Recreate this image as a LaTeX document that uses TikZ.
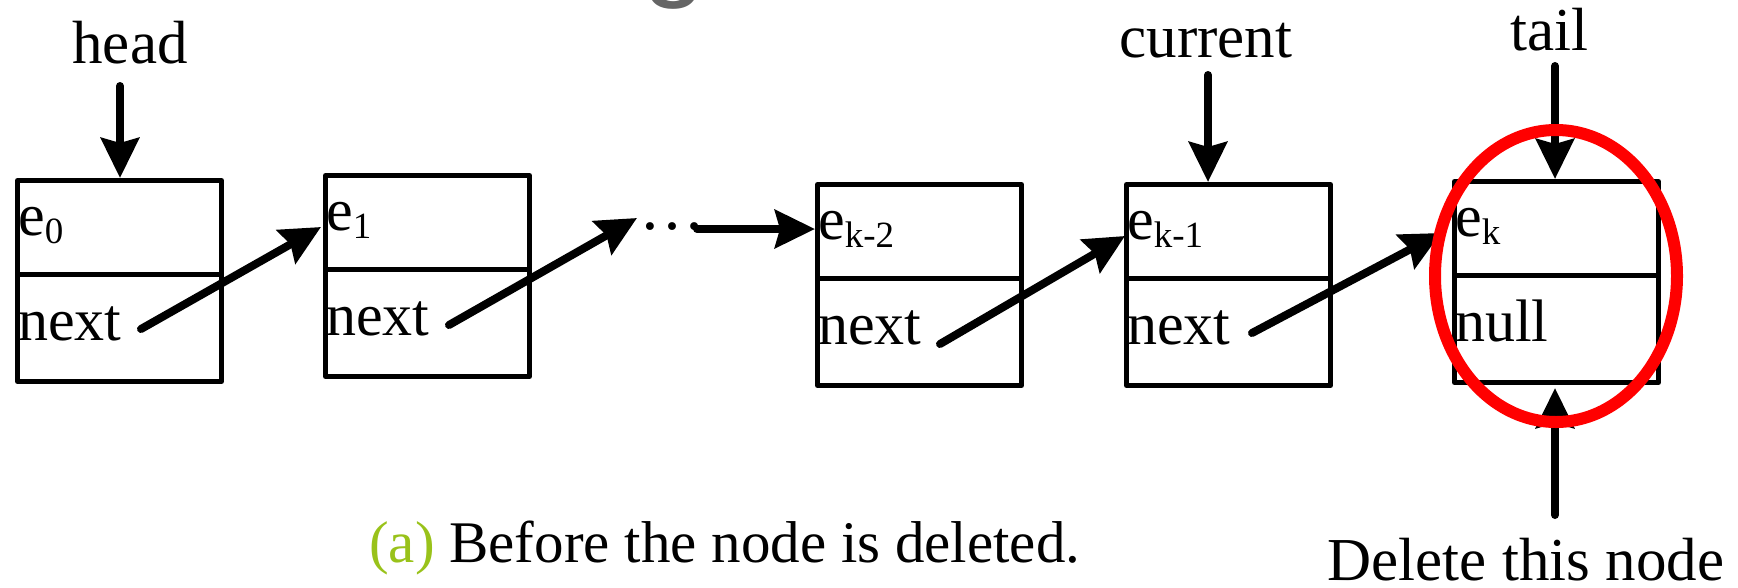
\documentclass[tikz,border=0pt]{standalone}
\usepackage{fontspec}
\setmainfont{Liberation Serif}
\newfontfamily\titlesans{Liberation Sans}
\usetikzlibrary{arrows.meta,shapes.geometric}
\newcommand\myel[1]{e\raisebox{-8pt}{\fontsize{37}{37}\selectfont #1}}
\begin{document}
\begin{tikzpicture}[x=1pt,y=-1pt,
  cellbox/.style={draw, line width=5pt, line join=round, minimum width=204pt, minimum height=201pt, inner sep=0pt, anchor=north west},
  lbl/.style={font=\fontsize{61}{61}\selectfont, inner sep=0pt, anchor=base},
  txt/.style={font=\fontsize{60}{60}\selectfont, inner sep=0pt, anchor=base west},
  ptr/.style={line width=8pt, line cap=round, -{Stealth[length=40pt,width=38pt,inset=5pt]}},
]
\useasboundingbox (0,0) rectangle (1738,587);
\clip (0,0) rectangle (1738,587);
\definecolor{capgreen}{HTML}{99C21A}
\definecolor{titlegray}{HTML}{656565}

% cropped title glyph
\node[font=\titlesans\fontsize{115}{115}\selectfont, text=titlegray, inner sep=0pt, anchor=base] (g) at (674,-15) {g};

% boxes
\node[cellbox] (b0) at (15,178) {};
\node[cellbox] (b1) at (323,173) {};
\node[cellbox] (b2) at (815,182) {};
\node[cellbox] (b3) at (1124,182) {};
\node[cellbox] (b4) at (1452,179) {};
\foreach \b in {b0,b1,b2,b3,b4}{
  \draw[line width=5pt] ([yshift=-96pt]\b.north west) -- ([yshift=-96pt]\b.north east);
}

% texts in boxes
\node[txt] (e0) at ([xshift=3pt,yshift=-57pt]b0.north west) {\myel{0}};
\node[txt] (n0) at ([xshift=3pt,yshift=-162pt]b0.north west) {next};
\node[txt] (e1) at ([xshift=3pt,yshift=-57pt]b1.north west) {\myel{1}};
\node[txt] (n1) at ([xshift=3pt,yshift=-162pt]b1.north west) {next};
\node[txt] (e2) at ([xshift=3pt,yshift=-57pt]b2.north west) {\myel{k-2}};
\node[txt] (n2) at ([xshift=3pt,yshift=-162pt]b2.north west) {next};
\node[txt] (e3) at ([xshift=3pt,yshift=-57pt]b3.north west) {\myel{k-1}};
\node[txt] (n3) at ([xshift=3pt,yshift=-162pt]b3.north west) {next};
\node[txt] (e4) at ([xshift=3pt,yshift=-57pt]b4.north west) {\myel{k}};
\node[txt] (n4) at ([xshift=3pt,yshift=-162pt]b4.north west) {null};

% dots
\node[font=\fontsize{66}{66}\selectfont, inner sep=0pt, anchor=base west] (dots) at (639,229) {…};

% labels
\node[lbl] (head) at (130,63) {head};
\node[lbl] (cur) at (1206,57) {current};
\node[lbl] (tail) at (1549,50) {tail};
\node[lbl] (del) at (1526,580) {Delete this node};
\node[font=\fontsize{59}{59}\selectfont, inner sep=0pt, anchor=base west] (cap) at (369,562) {\textcolor{capgreen}{(a)} Before the node is deleted.};

% pointer arrows
\coordinate (h0) at (120,86);
\coordinate (c0) at (1208,75);
\coordinate (t0) at (1555,66);
\coordinate (d0) at (1555,515);
\draw[ptr] (h0) -- (h0 |- b0.north);
\draw[ptr] (c0) -- (c0 |- b3.north);
\draw[ptr] (t0) -- (t0 |- b4.north);
\draw[ptr] (d0) -- ([yshift=-3pt]d0 |- b4.south);

% next links
\coordinate (s0) at (141,329);
\coordinate (s1) at (449,325);
\coordinate (s2) at (940,344);
\coordinate (s3) at (1252,333);
\coordinate (t1) at (321,227);
\coordinate (t2) at (637,218);
\coordinate (t4) at (1125,236);
\coordinate (t5) at (1441,233);
\coordinate (m0) at (697,229);
\draw[ptr] (s0) -- (t1);
\draw[ptr] (s1) -- (t2);
\draw[ptr] (m0) -- (m0 -| b2.west);
\draw[ptr] (s2) -- (t4);
\draw[ptr] (s3) -- (t5);

% highlight
\node[ellipse, draw=red, line width=12pt, minimum width=242pt, minimum height=292pt, inner sep=0pt] (hl) at (1556,276) {};
\end{tikzpicture}
\end{document}
